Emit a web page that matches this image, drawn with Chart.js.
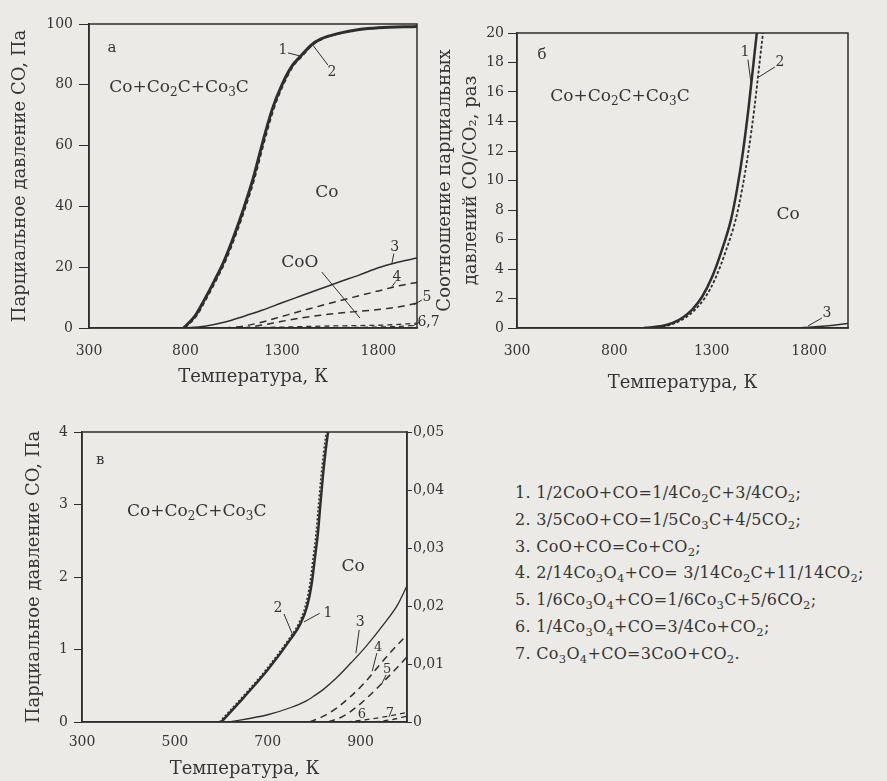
<!DOCTYPE html>
<html lang="ru">
<head>
<meta charset="UTF-8">
<title>Равновесия в системе Co–C–O</title>
<script src="https://cdn.jsdelivr.net/npm/chart.js"></script>
<style>
  body { margin: 0; width: 887px; height: 781px; overflow: hidden; position: relative;
         background: #ebeae6; font-family: "DejaVu Serif", "Liberation Serif", serif; color: #353535; }
  canvas { position: absolute; }
  #legend { position: absolute; left: 515px; top: 480px; font-size: 16px; letter-spacing: 0.3px;
            line-height: 26.8px; white-space: nowrap; }
  #legend sub { font-size: 72%; line-height: 0; }
</style>
</head>
<body>
<canvas id="chartA" width="440" height="395" style="left:0;top:0"></canvas>
<canvas id="chartB" width="440" height="400" style="left:430px;top:0"></canvas>
<canvas id="chartC" width="470" height="381" style="left:0;top:400px"></canvas>

<div id="legend">
  <div>1. 1/2CoO+CO=1/4Co<sub>2</sub>C+3/4CO<sub>2</sub>;</div>
  <div>2. 3/5CoO+CO=1/5Co<sub>3</sub>C+4/5CO<sub>2</sub>;</div>
  <div>3. CoO+CO=Co+CO<sub>2</sub>;</div>
  <div>4. 2/14Co<sub>3</sub>O<sub>4</sub>+CO= 3/14Co<sub>2</sub>C+11/14CO<sub>2</sub>;</div>
  <div>5. 1/6Co<sub>3</sub>O<sub>4</sub>+CO=1/6Co<sub>3</sub>C+5/6CO<sub>2</sub>;</div>
  <div>6. 1/4Co<sub>3</sub>O<sub>4</sub>+CO=3/4Co+CO<sub>2</sub>;</div>
  <div>7. Co<sub>3</sub>O<sub>4</sub>+CO=3CoO+CO<sub>2</sub>.</div>
</div>

<script>
// ---- а) парциальное давление CO, Па (300–2000 К) ----
const ticksTA = [300, 800, 1300, 1800];
const tA1 = [790, 850, 900, 950, 1000, 1050, 1100, 1150, 1200, 1250, 1300, 1350, 1400, 1450, 1500, 1600, 1700, 1800, 2000];
const pA1 = [0, 4, 9.5, 15.5, 22, 30, 39, 49, 61, 72, 80, 86, 89.6, 93, 95, 97, 98.2, 98.8, 99.2];
const tA2 = [798, 858, 908, 958, 1008, 1058, 1108, 1158, 1208, 1258, 1308, 1358, 1408, 1458, 1508, 1608, 1708, 1808, 2000];
const pA2 = [0, 4, 9.5, 15.5, 22, 30, 39, 49, 61, 72, 80, 86, 89.6, 93, 95, 97, 98.2, 98.8, 99.1];
const tA3 = [790, 900, 1000, 1100, 1200, 1300, 1400, 1500, 1600, 1700, 1800, 1900, 2000];
const pA3 = [0, 0.6, 1.9, 3.8, 5.9, 8.3, 10.6, 12.9, 15.2, 17.4, 19.8, 21.6, 23];
const tA4 = [1000, 1100, 1200, 1300, 1400, 1500, 1600, 1700, 1800, 1900, 2000];
const pA4 = [0, 0.6, 2, 3.8, 5.6, 7.3, 9, 10.6, 12.2, 13.8, 15];
const tA5 = [1100, 1200, 1300, 1400, 1500, 1600, 1700, 1800, 1900, 2000];
const pA5 = [0, 1, 2.2, 3.3, 4.2, 4.9, 5.5, 6.1, 6.9, 8.2];
const tA6 = [1100, 1300, 1500, 1700, 1850, 2000];
const pA6 = [0, 0.3, 0.6, 0.8, 1.0, 1.6];
const tA7 = [1300, 1500, 1700, 1900, 2000];
const pA7 = [0, 0.1, 0.2, 0.5, 0.9];

// ---- б) отношение CO/CO2 ----
const tB1 = [950, 1050, 1100, 1150, 1200, 1250, 1300, 1350, 1400, 1430, 1460, 1490, 1515, 1540];
const rB1 = [0, 0.15, 0.35, 0.7, 1.25, 2.1, 3.4, 5.2, 7.4, 9.4, 11.9, 15, 18, 21];
const tB2 = [970, 1065, 1115, 1165, 1215, 1268, 1320, 1372, 1424, 1456, 1488, 1520, 1546, 1572];
const rB2 = [0, 0.15, 0.35, 0.7, 1.25, 2.1, 3.4, 5.2, 7.4, 9.4, 11.9, 15, 18, 21];
const tB3 = [1700, 1800, 1900, 2000];
const rB3 = [0, 0.05, 0.15, 0.3];

// ---- в) парциальное давление CO, Па (300–1000 К) ----
const ticksTC = [300, 500, 700, 900];
const tC1 = [600, 650, 700, 750, 770, 785, 795, 802, 808, 813, 819, 824, 832];
const pC1 = [0, 0.35, 0.72, 1.15, 1.35, 1.6, 1.92, 2.28, 2.6, 2.97, 3.4, 3.7, 4.1];
const tC2 = [596, 646, 696, 746, 766, 781, 791, 798, 804, 809, 815, 820, 828];
const pC2 = [0, 0.35, 0.72, 1.15, 1.35, 1.6, 1.92, 2.28, 2.6, 2.97, 3.4, 3.7, 4.1];
const tC3 = [615, 700, 750, 780, 800, 820, 850, 880, 910, 950, 980, 1000];
const pC3 = [0, 0.1, 0.2, 0.28, 0.36, 0.45, 0.62, 0.82, 1.03, 1.35, 1.62, 1.88];
const tC4 = [790, 820, 850, 880, 910, 940, 970, 1000];
const pC4 = [0, 0.08, 0.2, 0.36, 0.55, 0.78, 1.0, 1.2];
const tC5 = [830, 860, 890, 920, 950, 980, 1000];
const pC5 = [0, 0.07, 0.2, 0.37, 0.56, 0.76, 0.9];
const tC6 = [870, 910, 950, 1000];
const pC6 = [0, 0.03, 0.07, 0.13];
const tC7 = [930, 965, 1000];
const pC7 = [0, 0.03, 0.08];

const INK = '#2e2e2e';
const TXT = '#353535';
const SERIF = '"DejaVu Serif", "Liberation Serif", serif';

function curve(t, p, width, dash) {
    return {
        data: t.map((x, i) => ({ x: x, y: p[i] })),
        borderColor: INK,
        borderWidth: width,
        borderDash: dash || [],
        pointRadius: 0,
        cubicInterpolationMode: 'monotone',
        fill: false
    };
}

// текст с индексами: "Co_2C" -> Co₂C (цифра после _ опускается и уменьшается)
function drawChem(ctx, str, cx, cy, size) {
    const parts = [];
    for (let i = 0; i < str.length; i++) {
        if (str[i] === '_') { parts.push([str[i + 1], true]); i++; }
        else parts.push([str[i], false]);
    }
    const fontOf = sub => (sub ? Math.round(size * 0.7) : size) + 'px ' + SERIF;
    let w = 0;
    parts.forEach(p => { ctx.font = fontOf(p[1]); w += ctx.measureText(p[0]).width; });
    let x = cx - w / 2;
    ctx.textAlign = 'left';
    parts.forEach(p => {
        ctx.font = fontOf(p[1]);
        ctx.fillText(p[0], x, cy + (p[1] ? size * 0.3 : 0));
        x += ctx.measureText(p[0]).width;
    });
}

// подписи внутри поля, выноски и рамка
const notesPlugin = {
    id: 'notes',
    afterDatasetsDraw(chart, args, opts) {
        const { ctx, chartArea: a } = chart;
        const x = chart.scales.x, y = chart.scales.y;
        ctx.save();
        ctx.strokeStyle = INK;
        ctx.lineWidth = 1;
        (opts.leaders || []).forEach(l => {
            ctx.beginPath();
            ctx.moveTo(x.getPixelForValue(l[0]), y.getPixelForValue(l[1]));
            ctx.lineTo(x.getPixelForValue(l[2]), y.getPixelForValue(l[3]));
            ctx.stroke();
        });
        ctx.fillStyle = TXT;
        ctx.textBaseline = 'middle';
        (opts.texts || []).forEach(t => {
            drawChem(ctx, t[0], x.getPixelForValue(t[1]), y.getPixelForValue(t[2]), t[3]);
        });
        ctx.lineWidth = 1.5;
        ctx.strokeRect(a.left, a.top, a.right - a.left, a.bottom - a.top);
        ctx.restore();
    }
};

function xAxis(min, max, tickVals, height, pad) {
    return {
        type: 'linear', min: min, max: max,
        afterBuildTicks: s => { s.ticks = tickVals.map(v => ({ value: v })); },
        afterFit: s => { s.height = height; },
        grid: { drawOnChartArea: false, drawTicks: false },
        border: { color: INK, width: 1.5 },
        ticks: { padding: pad, color: TXT, font: { family: SERIF, size: 14 }, callback: v => String(v) },
        title: { display: true, text: 'Температура, К', color: TXT,
                 font: { family: SERIF, size: 18 }, padding: { top: 0, bottom: 0 } }
    };
}

function yAxis(max, step, width, tickLen, pad, title, titleFont, titlePad) {
    return {
        min: 0, max: max,
        afterFit: s => { s.width = width; },
        grid: { drawOnChartArea: false, tickLength: tickLen, color: INK },
        border: { color: INK, width: 1.5 },
        ticks: { stepSize: step, padding: pad, color: TXT, font: { family: SERIF, size: 14 } },
        title: { display: true, text: title, color: TXT, font: titleFont, padding: { top: titlePad, bottom: 0 } }
    };
}

const base = {
    responsive: false,
    animation: false,
    events: []
};

// а
new Chart(document.getElementById('chartA'), {
    type: 'line',
    data: { datasets: [
        curve(tA1, pA1, 3),
        curve(tA2, pA2, 1.5, [4, 3]),
        curve(tA3, pA3, 1.5),
        curve(tA4, pA4, 1.5, [7, 5]),
        curve(tA5, pA5, 1.5, [7, 5]),
        curve(tA6, pA6, 1.3, [5, 4]),
        curve(tA7, pA7, 1.3, [5, 4])
    ] },
    options: Object.assign({}, base, {
        layout: { padding: { left: 10, top: 24, right: 23, bottom: 7 } },
        plugins: {
            legend: { display: false }, tooltip: { enabled: false },
            notes: {
                texts: [['а', 419, 92, 15], ['Co+Co_2C+Co_3C', 767, 79, 17], ['Co', 1533, 44.4, 17],
                        ['CoO', 1393, 21.4, 17], ['1', 1305, 91.4, 14], ['2', 1559, 84, 14],
                        ['3', 1885, 26.6, 14], ['4', 1896, 16.8, 14], ['5', 2051, 10.2, 14], ['6,7', 2060, 2, 14]],
                leaders: [[1331, 90.5, 1393, 89.5], [1538, 86.5, 1461, 93], [1507, 18.4, 1704, 3.3],
                          [1880, 24.5, 1870, 21.3], [1890, 15.3, 1870, 13.6], [2025, 9.2, 1984, 7.6],
                          [2015, 2, 1979, 0.7]]
            }
        },
        scales: {
            x: xAxis(300, 2000, ticksTA, 60, 15),
            y: yAxis(100, 20, 79, 10, 6, 'Парциальное давление CO, Па', { family: SERIF, size: 18 }, 0)
        }
    }),
    plugins: [notesPlugin]
});

// б
new Chart(document.getElementById('chartB'), {
    type: 'line',
    data: { datasets: [
        curve(tB1, rB1, 2.5),
        curve(tB2, rB2, 1.8, [3, 2]),
        curve(tB3, rB3, 1.5)
    ] },
    options: Object.assign({}, base, {
        layout: { padding: { left: 2, top: 33, right: 22, bottom: 6 } },
        plugins: {
            legend: { display: false }, tooltip: { enabled: false },
            notes: {
                texts: [['б', 428, 18.5, 15], ['Co+Co_2C+Co_3C', 829, 15.7, 17], ['Co', 1692, 7.66, 17],
                        ['1', 1471, 18.7, 14], ['2', 1651, 18, 14], ['3', 1892, 1.0, 14]],
                leaders: [[1486, 18.2, 1503, 16.5], [1625, 17.7, 1540, 17], [1866, 0.68, 1795, 0.14]]
            }
        },
        scales: {
            x: xAxis(300, 2000, ticksTA, 66, 15),
            y: yAxis(20, 2, 85, 9, 4, ['Соотношение парциальных', 'давлений CO/CO₂, раз'],
                     { family: SERIF, size: 18, lineHeight: 1.45 }, 0)
        }
    }),
    plugins: [notesPlugin]
});

// в
new Chart(document.getElementById('chartC'), {
    type: 'line',
    data: { datasets: [
        curve(tC1, pC1, 2.5),
        curve(tC2, pC2, 1.5, [2, 2]),
        curve(tC3, pC3, 1.3),
        curve(tC4, pC4, 1.5, [7, 5]),
        curve(tC5, pC5, 1.5, [7, 5]),
        curve(tC6, pC6, 1.3, [5, 4]),
        curve(tC7, pC7, 1.3, [5, 4])
    ] },
    options: Object.assign({}, base, {
        layout: { padding: { left: 10, top: 32, right: 23, bottom: 1 } },
        plugins: {
            legend: { display: false }, tooltip: { enabled: false },
            notes: {
                texts: [['в', 339, 3.61, 15], ['Co+Co_2C+Co_3C', 547, 2.9, 17], ['Co', 884, 2.14, 17],
                        ['2', 722, 1.57, 14], ['1', 830, 1.5, 14], ['3', 899, 1.37, 14],
                        ['4', 938, 1.02, 13], ['5', 957, 0.72, 13], ['6', 903, 0.1, 13], ['7', 963, 0.12, 13]],
                leaders: [[735, 1.49, 754, 1.2], [812, 1.5, 778, 1.38], [897, 1.27, 890, 0.95],
                          [935, 0.95, 925, 0.7], [955, 0.65, 945, 0.52]]
            }
        },
        scales: {
            x: xAxis(300, 1000, ticksTC, 58, 12),
            y: yAxis(4, 1, 72, 8, 6, 'Парциальное давление CO, Па', { family: SERIF, size: 18 }, 14),
            y2: {
                position: 'right', min: 0, max: 0.05,
                afterFit: s => { s.width = 40; },
                grid: { drawOnChartArea: false, tickLength: 5, color: INK },
                border: { color: INK, width: 1.5 },
                ticks: { stepSize: 0.01, padding: 1, color: TXT, font: { family: SERIF, size: 14 },
                         callback: v => v === 0 ? '0' : v.toFixed(2).replace('.', ',') }
            }
        }
    }),
    plugins: [notesPlugin]
});
</script>
</body>
</html>
